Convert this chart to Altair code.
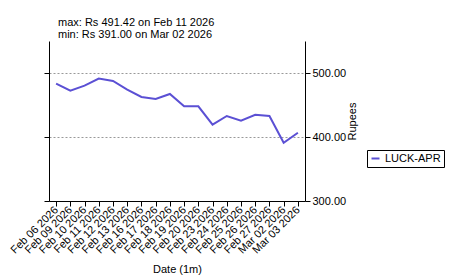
import altair as alt
import pandas as pd

dates = ["Feb 06 2026", "Feb 09 2026", "Feb 10 2026", "Feb 11 2026", "Feb 12 2026",
         "Feb 13 2026", "Feb 16 2026", "Feb 17 2026", "Feb 18 2026", "Feb 19 2026",
         "Feb 20 2026", "Feb 23 2026", "Feb 24 2026", "Feb 25 2026", "Feb 26 2026",
         "Feb 27 2026", "Mar 02 2026", "Mar 03 2026"]
prices = [483.3, 472.3, 480.2, 491.42, 487.5, 473.9, 462.5, 459.4, 467.2, 447.9,
          447.9, 419.2, 432.8, 425.5, 434.8, 432.8, 391.00, 406.7]
series_name = "LUCK-APR"
summary_lines = ["max: Rs 491.42 on Feb 11 2026", "min: Rs 391.00 on Mar 02 2026"]
y_ticks = [300, 400, 500]
y_domain = [300, 550]

FONT = "Liberation Sans"
LINE_COLOR = "#5b50d4"

df = pd.DataFrame({"date": dates, "price": prices, "series": [series_name] * len(dates)})

xenc = alt.X(
    "date:N", sort=dates,
    scale=alt.Scale(type="point", padding=0.5),
    axis=alt.Axis(title="Date (1m)", labelAngle=315, labelAlign="right", labelBaseline="middle",
                  labelFontSize=11, labelFont=FONT, labelColor="black", labelPadding=2,
                  tickSize=5, tickColor="black", domainColor="black",
                  titleFont=FONT, titleFontSize=11, titleFontWeight="normal", titleColor="black",
                  titlePadding=8, grid=False),
)
yscale = alt.Scale(domain=y_domain, nice=False, zero=False)

line = alt.Chart(df).mark_line(strokeWidth=2).encode(
    x=xenc,
    y=alt.Y("price:Q", scale=yscale,
            axis=alt.Axis(orient="left", labels=False, title=None, values=y_ticks,
                          grid=True, gridDash=[2, 2], gridColor="#999999",
                          tickSize=5, tickColor="black", domainColor="black")),
    color=alt.Color("series:N", scale=alt.Scale(range=[LINE_COLOR]),
                    legend=alt.Legend(orient="none", legendX=318, legendY=109, title=None,
                                      strokeColor="black", fillColor="white", padding=3,
                                      symbolType="stroke", symbolSize=64, symbolStrokeWidth=2,
                                      labelFontSize=11, labelFont=FONT, labelColor="black")),
)

right = alt.Chart(df).mark_line(opacity=0).encode(
    x=xenc,
    y=alt.Y("price:Q", scale=yscale,
            axis=alt.Axis(orient="right", values=y_ticks, format=".2f", title="Rupees",
                          titleAngle=270, titleFont=FONT, titleFontSize=11,
                          titleFontWeight="normal", titleColor="black", titlePadding=12,
                          labelFont=FONT, labelFontSize=11, labelColor="black", labelPadding=2,
                          tickSize=5, tickColor="black", domainColor="black", grid=False)),
)

t1 = alt.Chart(pd.DataFrame({"t": [summary_lines[0]]})).mark_text(
    align="left", baseline="alphabetic", font=FONT, fontSize=11, color="black"
).encode(x=alt.value(9), y=alt.value(-15), text="t:N")
t2 = alt.Chart(pd.DataFrame({"t": [summary_lines[1]]})).mark_text(
    align="left", baseline="alphabetic", font=FONT, fontSize=11, color="black"
).encode(x=alt.value(9), y=alt.value(-3), text="t:N")

chart = alt.layer(line, right, t1, t2).resolve_scale(y="shared").resolve_axis(y="independent").properties(
    width=256, height=160,
    autosize=alt.AutoSizeParams(type="none"),
    padding={"left": 49, "top": 41, "right": 144, "bottom": 74},
    background="white",
).configure_view(strokeWidth=0)

chart.save("out.html", embed_options={"renderer": "svg", "actions": False})
